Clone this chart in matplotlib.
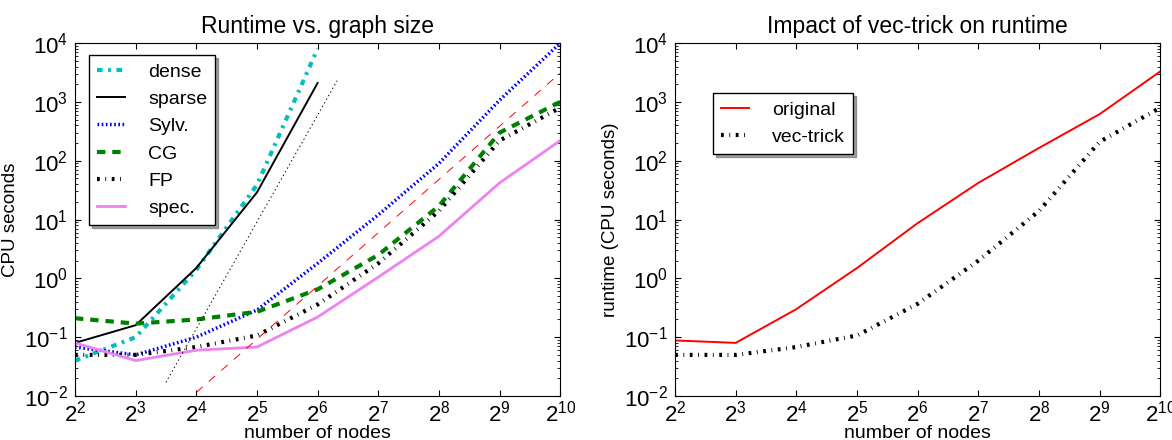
import numpy as np
import matplotlib
matplotlib.use('Agg')
import matplotlib.pyplot as plt
from matplotlib.ticker import LogLocator, LogFormatterMathtext

# number of nodes
nodes = [4, 8, 16, 32, 64, 128, 256, 512, 1024]

# left panel: runtimes (CPU seconds)
dense_n = [4, 8, 16, 32, 64]
dense_t = [0.04, 0.1, 1.4, 39, 8000]
sparse_n = [4, 8, 16, 32, 64]
sparse_t = [0.08, 0.16, 1.5, 29, 2100]
sylv_t = [0.068, 0.05, 0.1, 0.29, 1.8, 12, 90, 1070, 10000]
cg_t = [0.21, 0.17, 0.2, 0.27, 0.65, 2.5, 17, 300, 1000]
fp_t = [0.05, 0.05, 0.068, 0.107, 0.36, 1.8, 14, 220, 800]
spec_t = [0.08, 0.04, 0.06, 0.068, 0.22, 1.05, 5.2, 42, 220]

# reference slopes (straight lines in log-log, endpoints only)
ref3_n = [16, 1024]
ref3_t = [0.0115, 3100]
ref6_n = [11.3, 80]
ref6_t = [0.017, 2300]

# right panel
orig_t = [0.088, 0.08, 0.3, 1.5, 8.7, 42, 165, 620, 3300]
vec_t = [0.05, 0.05, 0.068, 0.107, 0.37, 2.0, 14, 210, 800]

plt.rcParams['font.family'] = ['Liberation Sans', 'DejaVu Sans']
plt.rcParams['mathtext.fontset'] = 'cm'
plt.rcParams['lines.scale_dashes'] = False
plt.rcParams['xtick.direction'] = 'in'
plt.rcParams['ytick.direction'] = 'in'
plt.rcParams['xtick.top'] = True
plt.rcParams['ytick.right'] = True
plt.rcParams['xtick.major.size'] = 4
plt.rcParams['ytick.major.size'] = 4
plt.rcParams['ytick.minor.size'] = 2
plt.rcParams['xtick.major.pad'] = 3
plt.rcParams['ytick.major.pad'] = 5

fig = plt.figure(figsize=(11.72, 4.4), dpi=100)
ax1 = fig.add_axes([0.064, 0.1, 0.414, 0.802])
ax2 = fig.add_axes([0.576, 0.1, 0.414, 0.802])

leg_kw = dict(loc='upper left', fontsize=14, shadow=True, fancybox=False,
              handlelength=1.45, labelspacing=0.5, borderpad=0.4,
              handletextpad=1.2, borderaxespad=0, edgecolor='k', framealpha=1)


def style_axes(axe):
    axe.set_xscale('log', base=2)
    axe.set_yscale('log')
    axe.set_xlim(4, 1024)
    axe.set_ylim(1e-2, 1e4)
    axe.xaxis.set_major_locator(LogLocator(base=2, subs=(1.0,), numticks=20))
    axe.xaxis.set_major_formatter(LogFormatterMathtext(base=2))
    axe.xaxis.set_minor_locator(plt.NullLocator())
    axe.yaxis.set_major_locator(LogLocator(base=10, subs=(1.0,), numticks=20))
    axe.yaxis.set_minor_locator(LogLocator(base=10, subs=np.arange(2, 10), numticks=20))
    axe.tick_params(labelsize=16)
    axe.set_xlabel('number of nodes', fontsize=14, labelpad=-1)


# left plot
style_axes(ax1)
ax1.plot(dense_n, dense_t, color='c', ls='-.', lw=3, dashes=(4, 4, 2, 4), label='dense')
ax1.plot(sparse_n, sparse_t, color='k', ls='-', lw=1.4, label='sparse')
ax1.plot(nodes, sylv_t, color='b', ls=':', lw=2.5, dashes=(1.2, 1.8), label='Sylv.')
ax1.plot(nodes, cg_t, color='g', ls='--', lw=3, dashes=(6, 5), label='CG')
ax1.plot(nodes, fp_t, color='k', ls='-.', lw=3, dashes=(2, 4, 0.6, 4), label='FP')
ax1.plot(nodes, spec_t, color='violet', ls='-', lw=2, label='spec.')
ax1.plot(ref3_n, ref3_t, color='r', ls='--', lw=0.7, dashes=(6, 6))
ax1.plot(ref6_n, ref6_t, color='k', ls=':', lw=0.7, dashes=(1, 2))
ax1.legend(bbox_to_anchor=(0.029, 0.966), **leg_kw)
ax1.set_ylabel('CPU seconds', fontsize=13.5, labelpad=4)
ax1.set_title('Runtime vs. graph size', fontsize=16.5, pad=7)

# right plot
style_axes(ax2)
ax2.plot(nodes, orig_t, color='r', ls='-', lw=1.4, label='original')
ax2.plot(nodes, vec_t, color='k', ls='-.', lw=3, dashes=(2, 4, 0.6, 4), label='vec-trick')
ax2.legend(bbox_to_anchor=(0.078, 0.858), **leg_kw)
ax2.set_ylabel('runtime (CPU seconds)', fontsize=13.5, labelpad=4)
ax2.set_title('Impact of vec-trick on runtime', fontsize=16.5, pad=7)

fig.savefig('out.png', dpi=100)
plt.close()
